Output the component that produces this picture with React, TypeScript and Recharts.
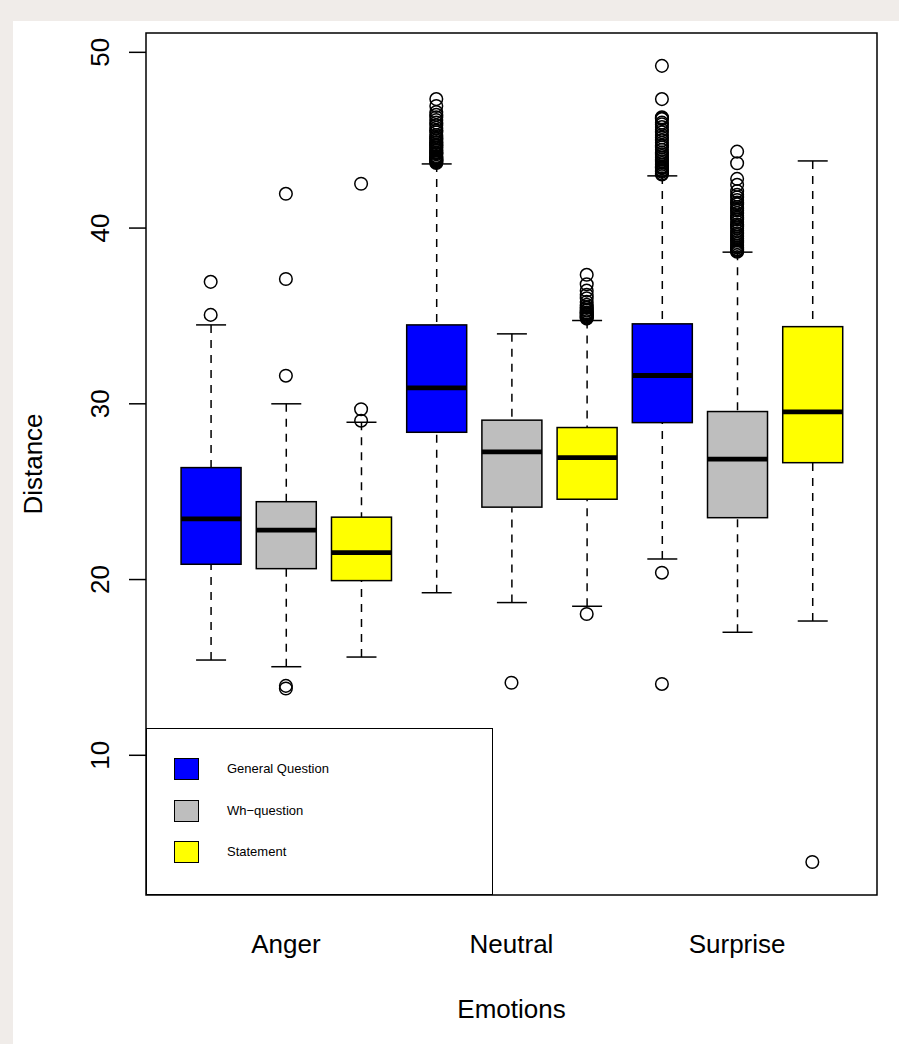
import { ComposedChart, Bar, Scatter, XAxis, YAxis, ReferenceArea } from 'recharts'

// groups on the x axis, three sentence types per emotion
const emotions = ['Anger', 'Neutral', 'Surprise']
const sentenceTypes = ['General Question', 'Wh\u2212question', 'Statement']
const typeColors = ['#0000ff', '#bebebe', '#ffff00']

// box stats, order: Anger GQ/Wh/St, Neutral GQ/Wh/St, Surprise GQ/Wh/St
const lowerWhisker = [15.42, 15.04, 15.59, 19.25, 18.69, 18.48, 21.17, 17.0, 17.64]
const lowerQuartile = [20.87, 20.62, 19.94, 28.38, 24.12, 24.57, 28.93, 23.52, 26.65]
const medians = [23.45, 22.81, 21.53, 30.91, 27.26, 26.94, 31.61, 26.85, 29.54]
const upperQuartile = [26.37, 24.43, 23.55, 34.49, 29.07, 28.65, 34.55, 29.56, 34.39]
const upperWhisker = [34.49, 30.0, 28.95, 43.65, 33.98, 34.74, 42.97, 38.63, 43.82]

const outliers = [
  [36.94, 35.06],
  [41.95, 37.1, 31.6, 13.95, 13.8],
  [42.52, 29.69, 29.04],
  [47.34, 46.95, 46.6, 46.45, 46.3, 46.15, 46.0, 45.85, 45.7, 45.55, 45.45, 45.3, 45.2, 45.1, 45.0, 44.9, 44.85, 44.75, 44.7, 44.6,
    44.55, 44.45, 44.4, 44.3, 44.25, 44.2, 44.1, 44.05, 44.0, 43.95, 43.9, 43.85, 43.8, 43.75, 43.7],
  [14.13],
  [37.34, 36.8, 36.44, 36.2, 36.01, 35.8, 35.63, 35.5, 35.45, 35.35, 35.3, 35.2, 35.15, 35.1, 35.05, 35.0, 34.95, 34.9, 34.85, 18.04],
  [49.23, 47.34, 46.3, 46.25, 46.2, 46.0, 45.9, 45.75, 45.59, 45.45, 45.3, 45.15, 45.0, 44.85, 44.7, 44.6, 44.45, 44.3, 44.2, 44.1,
    44.0, 43.9, 43.8, 43.7, 43.6, 43.5, 43.45, 43.4, 43.3, 43.25, 43.2, 43.1, 43.05, 20.39, 14.06],
  [44.35, 43.69, 42.8, 42.46, 42.1, 41.9, 41.75, 41.6, 41.45, 41.35, 41.2, 41.1, 41.0, 40.85, 40.7, 40.6, 40.5, 40.35, 40.2, 40.1,
    40.0, 39.85, 39.7, 39.6, 39.5, 39.4, 39.3, 39.2, 39.1, 39.0, 38.9, 38.8, 38.75, 38.7, 38.65],
  [3.93],
]

const yTicks = [10, 20, 30, 40, 50]
const xDomain = [0.14, 9.86]
const yDomain = [2.05, 51.1]

const FONT = '"Liberation Sans", Arial, Helvetica, sans-serif'
const LW = 1.5

const boxes = lowerWhisker.map((lo, i) => ({
  pos: i + 1,
  lo,
  q1: lowerQuartile[i],
  median: medians[i],
  q3: upperQuartile[i],
  hi: upperWhisker[i],
  fill: typeColors[i % 3],
}))

const outlierPoints = outliers.flatMap((vals, i) => vals.map((value) => ({ pos: i + 1, value })))

const xTicks = emotions.map((_, i) => i * 3 + 2)

function BoxShape(props: any) {
  const { x, y, width, height, payload } = props
  const { lo, hi, q1, median, q3, fill } = payload
  const top = Math.min(y, y + height)
  const bottom = Math.max(y, y + height)
  const py = (v: number) => bottom - ((bottom - top) * (v - lo)) / (hi - lo)
  const cx = x + width / 2
  const cap = width / 4
  return (
    <g>
      <line x1={cx} x2={cx} y1={py(hi)} y2={py(q3)} stroke="#000" strokeWidth={LW} strokeDasharray="8 7" />
      <line x1={cx} x2={cx} y1={py(lo)} y2={py(q1)} stroke="#000" strokeWidth={LW} strokeDasharray="8 7" />
      <line x1={cx - cap} x2={cx + cap} y1={py(hi)} y2={py(hi)} stroke="#000" strokeWidth={LW} />
      <line x1={cx - cap} x2={cx + cap} y1={py(lo)} y2={py(lo)} stroke="#000" strokeWidth={LW} />
      <rect x={x} y={py(q3)} width={width} height={py(q1) - py(q3)} fill={fill} stroke="#000" strokeWidth={LW} />
      <line x1={x} x2={x + width} y1={py(median)} y2={py(median)} stroke="#000" strokeWidth={4.8} />
    </g>
  )
}

function OutlierDot(props: any) {
  return <circle cx={props.cx} cy={props.cy} r={6.3} fill="none" stroke="#000" strokeWidth={LW} />
}

function CategoryTick(props: any) {
  const { x, y, payload } = props
  const name = emotions[xTicks.indexOf(payload.value)]
  return (
    <text x={x} y={y + 58} textAnchor="middle" fontSize={26} fill="#000" fontFamily={FONT}>
      {name}
    </text>
  )
}

function ValueTick(props: any) {
  const { x, y, payload } = props
  return (
    <text x={x} y={y} transform={`rotate(-90 ${x} ${y})`} textAnchor="middle" fontSize={26} fill="#000" fontFamily={FONT}>
      {payload.value}
    </text>
  )
}

function Legendbox() {
  return (
    <div
      style={{
        position: 'absolute',
        left: 133,
        top: 707,
        width: 347,
        height: 167,
        boxSizing: 'border-box',
        border: '1.5px solid #000',
        background: '#fff',
        fontFamily: FONT,
        fontSize: 13,
        color: '#000',
      }}
    >
      {sentenceTypes.map((t, i) => (
        <div key={t}>
          <div
            style={{
              position: 'absolute',
              left: 27,
              top: 29 + i * 41.7,
              width: 25,
              height: 22,
              boxSizing: 'border-box',
              border: '1.5px solid #000',
              background: typeColors[i],
            }}
          />
          <div style={{ position: 'absolute', left: 80, top: 29 + i * 41.7, height: 22, lineHeight: '22px', whiteSpace: 'nowrap' }}>
            {t}
          </div>
        </div>
      ))}
    </div>
  )
}

export default function App() {
  return (
    <div style={{ position: 'absolute', left: 0, top: 0, width: 899, height: 1044, background: '#f0ece9', overflow: 'hidden' }}>
      <div style={{ position: 'absolute', left: 13, top: 21, width: 886, height: 1023, background: '#fff' }}>
        <ComposedChart
          width={886}
          height={1023}
          data={boxes}
          margin={{ top: 12, right: 22, bottom: 0, left: 0 }}
          style={{ fontFamily: FONT }}
        >
          <XAxis
            type="number"
            dataKey="pos"
            domain={xDomain}
            allowDataOverflow
            ticks={xTicks}
            interval={0}
            tick={<CategoryTick />}
            tickLine={false}
            axisLine={false}
            tickSize={0}
            tickMargin={0}
            height={149}
            label={{
              value: 'Emotions',
              content: (p: any) => {
                const vb = p.viewBox || { x: 133, y: 874, width: 731 }
                return (
                  <text x={vb.x + vb.width / 2} y={vb.y + 123} textAnchor="middle" fontSize={26} fill="#000" fontFamily={FONT}>
                    Emotions
                  </text>
                )
              },
            }}
          />
          <YAxis
            type="number"
            domain={yDomain}
            allowDataOverflow
            ticks={yTicks}
            interval={0}
            width={133}
            tickSize={17}
            tickMargin={20}
            axisLine={false}
            tickLine={{ stroke: '#000', strokeWidth: LW }}
            tick={<ValueTick />}
            label={{
              value: 'Distance',
              content: (p: any) => {
                const vb = p.viewBox || { x: 0, y: 12, height: 862 }
                const lx = vb.x + 29
                const ly = vb.y + vb.height / 2
                return (
                  <text x={lx} y={ly} transform={`rotate(-90 ${lx} ${ly})`} textAnchor="middle" fontSize={26} fill="#000" fontFamily={FONT}>
                    Distance
                  </text>
                )
              },
            }}
          />
          <Bar dataKey={(d: any) => [d.lo, d.hi]} barSize={60} shape={<BoxShape />} isAnimationActive={false} />
          <Scatter data={outlierPoints} dataKey="value" shape={<OutlierDot />} isAnimationActive={false} />
          <ReferenceArea
            x1={xDomain[0]}
            x2={xDomain[1]}
            y1={yDomain[0]}
            y2={yDomain[1]}
            fill="none"
            fillOpacity={0}
            stroke="#000"
            strokeWidth={LW}
            ifOverflow="visible"
          />
        </ComposedChart>
        <Legendbox />
      </div>
    </div>
  )
}
